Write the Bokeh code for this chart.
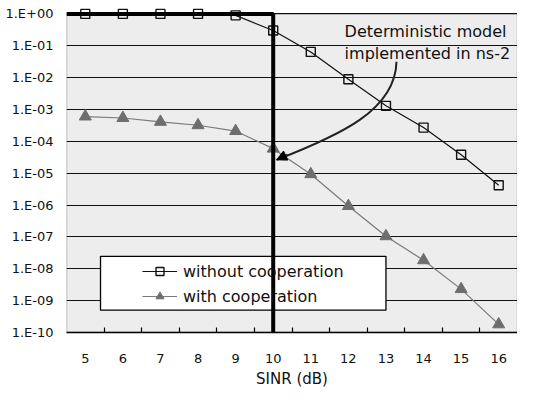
from bokeh.plotting import figure
from bokeh.models import FixedTicker, Range1d, BoxAnnotation, Label, Arrow, NormalHead
from bokeh.embed import file_html
from bokeh.resources import INLINE

# ---- data ----
sinr = [5, 6, 7, 8, 9, 10, 11, 12, 13, 14, 15, 16]
ber_without = [1.0, 1.0, 1.0, 1.0, 0.9, 0.3, 0.064, 0.0089, 1.3e-3, 2.7e-4, 3.8e-5, 4.2e-6]
ber_with = [6.0e-4, 5.4e-4, 4.1e-4, 3.2e-4, 2.1e-4, 5.9e-5, 9.3e-6, 9.3e-7, 1.05e-7, 1.85e-8, 2.3e-9, 1.8e-10]
det_x = [4.5, 10, 10]
det_y = [1.0, 1.0, 1e-10]
x_ticks = [5, 6, 7, 8, 9, 10, 11, 12, 13, 14, 15, 16]
x_bounds = [5.5, 6.5, 7.5, 8.5, 9.5, 10.5, 11.5, 12.5, 13.5, 14.5, 15.5]
y_ticks = [1.0, 1e-1, 1e-2, 1e-3, 1e-4, 1e-5, 1e-6, 1e-7, 1e-8, 1e-9, 1e-10]
y_labels = ["1.E+00", "1.E-01", "1.E-02", "1.E-03", "1.E-04", "1.E-05",
            "1.E-06", "1.E-07", "1.E-08", "1.E-09", "1.E-10"]

FONT = "DejaVu Sans"
BG = "#ededed"

p = figure(width=517, height=390, output_backend="svg", toolbar_location=None,
           y_axis_type="log",
           x_range=Range1d(4.5, 16.5), y_range=Range1d(1e-10, 10 ** 0.42),
           min_border_left=66, min_border_right=0, min_border_top=0, min_border_bottom=57,
           background_fill_color="white", border_fill_color="white",
           outline_line_color=None)

# plot area (grey box with border)
box = BoxAnnotation(left=4.5, right=16.5, bottom=1e-10, top=1.0,
                    fill_color=BG, fill_alpha=1.0, line_color="black", line_width=1.5,
                    level="image")
p.add_layout(box)

# grid
yt = FixedTicker(ticks=y_ticks)
p.xgrid.visible = False
p.ygrid.ticker = yt
p.ygrid.grid_line_color = "#111111"
p.ygrid.grid_line_width = 1.2

# axes
p.yaxis.ticker = yt
p.yaxis.major_label_overrides = dict(zip(y_ticks, y_labels))
p.yaxis.axis_line_color = None
p.yaxis.major_tick_in = 0
p.yaxis.major_tick_out = 0
p.yaxis.minor_tick_in = 0
p.yaxis.minor_tick_out = 0
p.yaxis.major_label_standoff = 13
p.yaxis.major_label_text_font = FONT
p.yaxis.major_label_text_font_size = "13px"
p.yaxis.major_label_text_color = "#111111"

p.xaxis.ticker = FixedTicker(ticks=x_ticks, minor_ticks=x_bounds)
p.xaxis.axis_line_color = "black"
p.xaxis.axis_line_width = 1.5
p.xaxis.major_tick_in = 0
p.xaxis.major_tick_out = 0
p.xaxis.minor_tick_in = 5
p.xaxis.minor_tick_out = 0
p.xaxis.minor_tick_line_color = "black"
p.xaxis.minor_tick_line_width = 1.2
p.xaxis.major_label_standoff = 21
p.xaxis.major_label_text_font = FONT
p.xaxis.major_label_text_font_size = "13px"
p.xaxis.major_label_text_color = "#111111"
p.xaxis.axis_label = "SINR (dB)"
p.xaxis.axis_label_standoff = 4
p.xaxis.axis_label_text_font = FONT
p.xaxis.axis_label_text_font_size = "15px"
p.xaxis.axis_label_text_font_style = "normal"
p.xaxis.axis_label_text_color = "#111111"

# legend box (white) under the deterministic line
p.quad(left=[5.405], right=[13.0], top=[10 ** -7.61], bottom=[10 ** -9.30],
       fill_color="white", line_color="black", line_width=1.3)

# series
p.line(sinr, ber_with, line_color="#7a7a7a", line_width=1.2, legend_label="with cooperation")
p.scatter(sinr, ber_with, marker="triangle", size=12, fill_color="#6e6e6e",
          line_color="#6e6e6e", legend_label="with cooperation")
p.line(sinr, ber_without, line_color="#111111", line_width=1.2, legend_label="without cooperation")
p.scatter(sinr, ber_without, marker="square", size=9, fill_alpha=0,
          line_color="#111111", line_width=1.4, legend_label="without cooperation")

# deterministic model
p.line(det_x, det_y, line_color="black", line_width=4)

# annotation
lab = Label(x=11.9, y=10 ** -0.26, text="Deterministic model\nimplemented in ns-2",
            text_font=FONT, text_font_size="16px", text_baseline="top",
            text_line_height=1.13, text_color="#111111")
p.add_layout(lab)
p.bezier(x0=[13.28], y0=[10 ** -1.5], x1=[10.09], y1=[10 ** -4.58],
         cx0=[13.25], cy0=[10 ** -3.02], cx1=[11.79], cy1=[10 ** -3.8],
         line_color="#222222", line_width=2)
p.add_layout(Arrow(end=NormalHead(size=10, fill_color="black", line_color="black"),
                   x_start=10.38, y_start=10 ** -4.42, x_end=10.09, y_end=10 ** -4.58,
                   line_color="#222222", line_width=2))

# legend
lg = p.legend[0]
lg.items = list(reversed(lg.items))
lg.location = (76, 26)
lg.border_line_color = None
lg.background_fill_alpha = 0
lg.padding = 0
lg.margin = 0
lg.spacing = 5
lg.glyph_width = 35
lg.glyph_height = 20
lg.label_height = 20
lg.label_standoff = 6
lg.label_text_font = FONT
lg.label_text_font_size = "16px"
lg.label_text_color = "#111111"

open("out.html", "w").write(file_html(p, INLINE))
